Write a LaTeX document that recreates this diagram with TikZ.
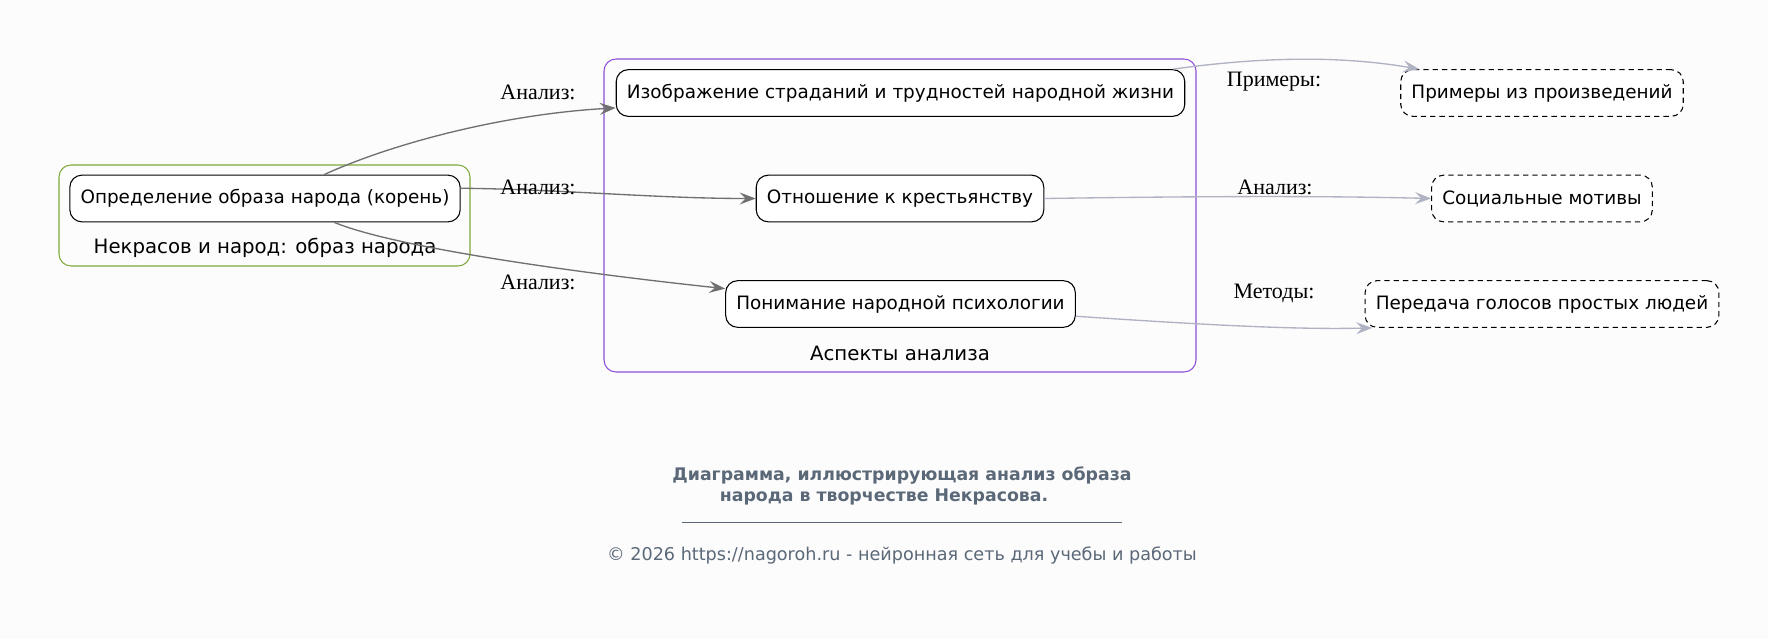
\documentclass[tikz,border=0pt]{standalone}
\usepackage{fontspec}
\setmainfont{DejaVu Sans}
\newfontfamily\labelfont{Liberation Serif}
\usepackage{tikz}
\usetikzlibrary{arrows.meta}
\definecolor{bgcol}{HTML}{FDFCFC}
\definecolor{rootgreen}{HTML}{7FA83A}
\definecolor{aspectviolet}{HTML}{8A4FD6}
\definecolor{darkedge}{HTML}{707070}
\definecolor{lightedge}{HTML}{AEB2C2}
\definecolor{titlegray}{HTML}{5A6878}
\tikzset{
	idea/.style={draw=black, line width=0.8pt, fill=white, rounded corners=9pt, minimum height=35pt, inner xsep=8pt, font=\fontsize{13.8}{16}\selectfont},
	example/.style={idea, dashed, dash pattern=on 4pt off 3pt},
	grouplabel/.style={font=\fontsize{14.8}{17}\selectfont},
	edgelabel/.style={font=\labelfont\fontsize{16.5}{18}\selectfont},
	link/.style={line width=1pt, -{Stealth[length=12pt, width=9pt, inset=4.5pt]}},
}

\begin{document}
\begin{tikzpicture}[x=0.75pt, y=-0.75pt]
				\fill[bgcol] (0,0) rectangle (1768,639);
				
				% clusters
				\draw[rootgreen, line width=0.8pt, rounded corners=9pt] (59,165) rectangle (470,266);
				\node[grouplabel] (rootlbl) at (265,248) {Некрасов и народ: образ народа};
				\draw[aspectviolet, line width=0.8pt, rounded corners=9pt] (604,59) rectangle (1196,372);
				\node[grouplabel] (aspectlbl) at (900,353) {Аспекты анализа};
				
				% nodes
				\node[idea] (root) at (265,198.5) {Определение образа народа (корень)};
				\node[idea] (suffer) at (900.5,93) {Изображение страданий и трудностей народной жизни};
				\node[idea] (peasant) at (900,198.5) {Отношение к крестьянству};
				\node[idea] (psych) at (900.5,304) {Понимание народной психологии};
				\node[example] (works) at (1542,93) {Примеры из произведений};
				\node[example] (social) at (1542,198.5) {Социальные мотивы};
				\node[example] (voices) at (1542,304) {Передача голосов простых людей};
				
				% edges
				\draw[link, darkedge] (root.22) .. controls +(70,-32) and +(-110,6) .. (suffer.183);
				\draw[link, darkedge] (root.3) .. controls +(100,1) and +(-100,0) .. (peasant.west);
				\draw[link, darkedge] (root.-19) .. controls +(60,25) and +(-150,-16) .. (psych.175);
				\draw[link, lightedge] (suffer.5) .. controls +(100,-14) and +(-70,-12) .. (works.169);
				\draw[link, lightedge] (peasant.east) .. controls +(140,-2) and +(-120,-3) .. (social.west);
				\draw[link, lightedge] (psych.-4) .. controls +(120,8) and +(-80,2) .. (voices.188);
				
				% edge labels
				\node[edgelabel] (l1) at (538,92) {Анализ:};
				\node[edgelabel] (l2) at (538,187) {Анализ:};
				\node[edgelabel] (l3) at (538,282) {Анализ:};
				\node[edgelabel] (l4) at (1274,82) {Примеры:};
				\node[edgelabel] (l5) at (1275,187) {Анализ:};
				\node[edgelabel] (l6) at (1274,293) {Методы:};
				
				% caption
				\node[titlegray, font=\bfseries\fontsize{13}{15.5}\selectfont, align=center] (title) at (902,486) {Диаграмма, иллюстрирующая анализ образа\\народа в творчестве Некрасова.\hspace*{27pt}};
				\draw[titlegray, line width=0.6pt] (682,522) -- (1122,522);
				\node[titlegray, font=\fontsize{13.2}{15}\selectfont] (footer) at (902,555) {© 2026 https://nagoroh.ru - нейронная сеть для учебы и работы};
			\end{tikzpicture}
\end{document}
